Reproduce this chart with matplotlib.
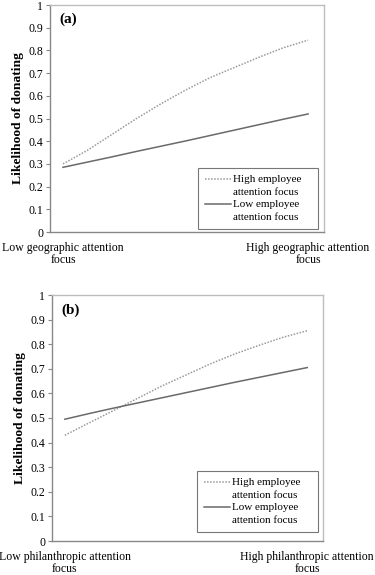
import matplotlib
matplotlib.use("Agg")
import matplotlib.pyplot as plt
from matplotlib.legend_handler import HandlerLine2D

t = [0.0, 0.1, 0.2, 0.3, 0.4, 0.5, 0.6, 0.7, 0.8, 0.9, 1.0]
a_high = [0.30, 0.36, 0.43, 0.50, 0.565, 0.625, 0.68, 0.725, 0.77, 0.812, 0.845]
a_low = [0.285, 0.308, 0.331, 0.355, 0.378, 0.401, 0.425, 0.449, 0.473, 0.497, 0.52]
b_high = [0.43, 0.48, 0.53, 0.58, 0.63, 0.675, 0.72, 0.76, 0.795, 0.828, 0.855]
b_low = [0.495, 0.518, 0.54, 0.561, 0.582, 0.603, 0.624, 0.645, 0.665, 0.685, 0.705]
yticks = [0, 0.1, 0.2, 0.3, 0.4, 0.5, 0.6, 0.7, 0.8, 0.9, 1]
ytick_labels = ["0", "0.1", "0.2", "0.3", "0.4", "0.5", "0.6", "0.7", "0.8", "0.9", "1"]
legend_labels = ["High employee\nattention focus", "Low employee\nattention focus"]
panels = [
    ("(a)", a_high, a_low, "Low geographic attention\nfocus", "High geographic attention\nfocus"),
    ("(b)", b_high, b_low, "Low philanthropic attention\nfocus", "High philanthropic attention\nfocus"),
]


class FirstLineHandler(HandlerLine2D):
    """Place the legend line next to the first text line."""
    def create_artists(self, legend, orig_handle, xdescent, ydescent, width, height, fontsize, trans):
        shift = 0.62 * fontsize
        return super().create_artists(legend, orig_handle, xdescent, ydescent - 2 * shift,
                                      width, height, fontsize, trans)


plt.rcParams['font.family'] = ['Liberation Serif', 'DejaVu Serif']
W, H = 375, 575
fig = plt.figure(figsize=(W / 100, H / 100), dpi=100)

boxes = [(50, 5, 324, 232), (52, 295, 323, 541)]
legboxes = [(198, 166, 318, 229), (197, 469, 318, 532)]

for (lab, hi, lo, xl, xr), (x0, y0, x1, y1), (lx0, ly0, lx1, ly1) in zip(panels, boxes, legboxes):
    ax = fig.add_axes([x0 / W, 1 - y1 / H, (x1 - x0) / W, (y1 - y0) / H])
    l1, = ax.plot(t, hi, color='#9a9a9a', lw=1.1, ls=(0, (1, 1)))
    l2, = ax.plot(t, lo, color='#6a6a6a', lw=1.1)
    ax.set_xlim(-0.053, 1.065)
    ax.set_ylim(0, 1)
    ax.set_yticks(yticks)
    ax.set_yticklabels(ytick_labels, fontsize=8.5)
    ax.set_xticks([])
    ax.tick_params(axis='y', length=3, width=0.8, color='#888888', pad=2)
    for s in ['top', 'right']:
        ax.spines[s].set_color('#bdbdbd')
        ax.spines[s].set_linewidth(1.0)
    for s in ['left', 'bottom']:
        ax.spines[s].set_color('#888888')
        ax.spines[s].set_linewidth(1.0)
    ax.set_ylabel("Likelihood of donating", fontsize=9.7, fontweight='bold', labelpad=3)
    ax.text(0.035, 0.965, lab, transform=ax.transAxes, fontsize=11, fontweight='bold', va='top', ha='left')
    for xv, txt in [(t[0], xl), (t[-1], xr)]:
        ax.annotate(txt, xy=(xv, 0), xycoords=('data', 'axes fraction'),
                    xytext=(0, -7), textcoords='offset points',
                    ha='center', va='top', fontsize=8.5, linespacing=1.0,
                    annotation_clip=False)
    h = FirstLineHandler()
    leg = ax.legend([l1, l2], legend_labels, loc='lower left',
                    bbox_to_anchor=((lx0 - x0) / (x1 - x0), (y1 - ly1) / (y1 - y0),
                                    (lx1 - lx0) / (x1 - x0), (ly1 - ly0) / (y1 - y0)),
                    mode='expand', fontsize=8, frameon=True, fancybox=False,
                    handlelength=2.3, handletextpad=0.2, borderpad=0.65, labelspacing=0.3,
                    borderaxespad=0, handler_map={l1: h, l2: h})
    for tx in leg.get_texts():
        tx.set_linespacing(1.5)
    leg.get_frame().set_edgecolor('#555555')
    leg.get_frame().set_linewidth(0.8)

fig.savefig("out.png", dpi=100)
